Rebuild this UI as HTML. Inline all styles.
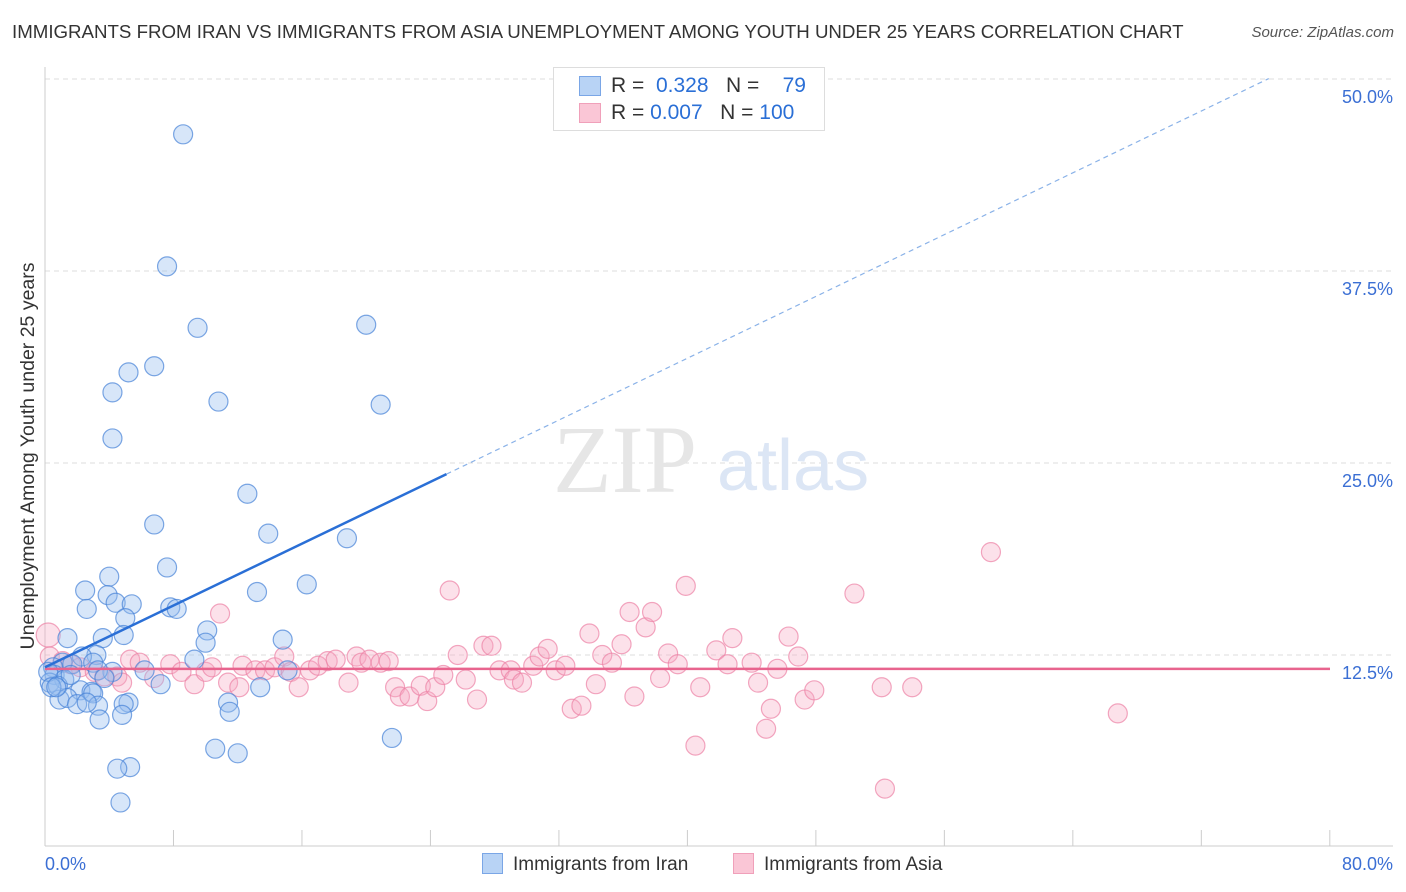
<!DOCTYPE html>
<html><head><meta charset="utf-8"><style>
body{margin:0;background:#fff;font-family:"Liberation Sans",sans-serif;}
#wrap{position:relative;width:1406px;height:892px;overflow:hidden;}
.t{position:absolute;white-space:nowrap;}
</style></head><body><div id="wrap">
<div class="t" style="left:12px;top:21px;font-size:18.7px;color:#333;">IMMIGRANTS FROM IRAN VS IMMIGRANTS FROM ASIA UNEMPLOYMENT AMONG YOUTH UNDER 25 YEARS CORRELATION CHART</div>
<div class="t" style="right:12px;top:24px;font-size:15px;color:#555;font-style:italic;">Source: ZipAtlas.com</div>
<svg id="svg" width="1406" height="892" style="position:absolute;left:0;top:0"></svg>
</div>
<script>
const iranX=[8.6,7.6,9.5,20.0,6.8,5.2,4.2,10.8,20.9,4.2,12.6,6.8,13.9,18.8,7.6,4.0,16.3,2.5,13.2,3.9,4.4,5.4,2.6,7.8,8.2,5.0,10.1,4.9,1.4,3.6,14.8,10.0,3.2,2.3,1.1,1.7,0.5,3.0,9.3,6.2,4.2,3.3,15.1,0.6,1.2,0.3,0.8,2.2,2.9,7.2,13.4,3.0,0.9,1.4,2.0,3.3,5.2,4.9,11.4,2.6,11.5,4.8,3.4,10.6,12.0,21.6,5.3,4.5,4.7,0.2,0.4,0.7,3.7,1.6];
const iranY=[46.4,37.8,33.8,34.0,31.3,30.9,29.6,29.0,28.8,26.6,23.0,21.0,20.4,20.1,18.2,17.6,17.1,16.7,16.6,16.4,15.9,15.8,15.5,15.6,15.5,14.9,14.1,13.8,13.6,13.6,13.5,13.3,12.5,12.4,12.0,11.9,11.7,12.0,12.2,11.5,11.4,11.5,11.5,11.2,10.9,10.7,10.5,10.2,10.1,10.6,10.4,10.0,9.6,9.7,9.3,9.2,9.4,9.3,9.4,9.4,8.8,8.6,8.3,6.4,6.1,7.1,5.2,5.1,2.9,11.4,10.4,10.4,11.0,11.2];
const asiaX=[0.2,0.3,1.1,1.6,2.2,3.1,3.7,4.5,4.8,5.3,5.9,6.8,7.8,8.5,9.3,10.0,10.4,10.9,11.4,12.1,12.3,13.1,13.7,14.3,14.9,15.3,15.8,16.5,17.0,17.6,18.1,18.9,19.4,19.7,20.2,20.9,21.4,21.8,22.1,22.7,23.4,23.8,24.3,24.8,25.2,25.7,26.2,26.9,27.3,27.8,28.3,29.0,29.2,29.7,30.4,30.8,31.3,31.8,32.4,32.8,33.4,33.9,34.3,34.7,35.3,35.9,36.4,36.7,37.4,37.8,38.3,38.8,39.4,39.9,40.5,40.8,41.8,42.8,42.5,44.0,44.4,44.9,45.2,45.6,46.3,46.9,47.3,47.9,50.4,52.1,52.3,54.0,58.9,66.8];
const asiaY=[13.8,12.4,12.1,11.9,11.7,11.4,11.1,11.1,10.7,12.2,12.0,11.0,11.9,11.4,10.6,11.4,11.7,15.2,10.7,10.4,11.8,11.5,11.5,11.7,12.4,11.4,10.4,11.5,11.8,12.1,12.2,10.7,12.4,12.0,12.2,12.0,12.1,10.4,9.8,9.8,10.5,9.5,10.4,11.2,16.7,12.5,10.9,9.6,13.1,13.1,11.5,11.5,10.9,10.7,11.8,12.4,12.9,11.5,11.8,9.0,9.2,13.9,10.6,12.5,12.0,13.2,15.3,9.8,14.3,15.3,11.0,12.6,11.9,17.0,6.6,10.4,12.8,13.6,11.9,12.0,10.7,7.7,9.0,11.6,13.7,12.4,9.6,10.2,16.5,10.4,3.8,10.4,19.2,8.7];
const yTicks=[12.5,25.0,37.5,50.0];
const xTickVals=[0,8,16,24,32,40,48,56,64,72,80];
const iranTrend=[0,11.7,25.0,76.2]; // x0,y0,xSolidEnd,xDashEnd
const iranSlope=0.503;
const asiaTrendY=11.6;

const NS="http://www.w3.org/2000/svg";
const svg=document.getElementById('svg');
const X=v=>45+v*16.06, Y=v=>847-v*15.36;
function mk(tag,a,parent){const e=document.createElementNS(NS,tag);for(const k in a)e.setAttribute(k,a[k]);(parent||svg).appendChild(e);return e;}
for(const t of yTicks){
 const g=mk('line',{x1:45,x2:1393,y1:Y(t),y2:Y(t),stroke:'#ddd','stroke-dasharray':'5,4'});
 
 
 const tx=mk('text',{x:1393,y:Y(t)+24,'text-anchor':'end','font-size':18,fill:'#3b6fd4','font-family':'Liberation Sans'});
 tx.textContent=t.toFixed(1)+'%';
 
 
}
mk('line',{x1:45,x2:45,y1:67,y2:846,stroke:'#ccc'});
mk('line',{x1:45,x2:1393,y1:846,y2:846,stroke:'#ccc'});
for(const v of xTickVals){
 const l=mk('line',{x1:X(v),x2:X(v),y1:830,y2:846,stroke:'#ccc'});
 
 
}
const x0=mk('text',{x:45,y:870,'font-size':18,fill:'#3b6fd4'});x0.textContent='0.0%';


const x1=mk('text',{x:1393,y:870,'font-size':18,fill:'#3b6fd4','text-anchor':'end'});x1.textContent='80.0%';


const yt=mk('text',{x:0,y:0,'font-size':19.5,fill:'#333','text-anchor':'middle',transform:'translate(34,456) rotate(-90)'});
yt.textContent='Unemployment Among Youth under 25 years';


const wm=mk('text',{x:553,y:492,'font-size':96,fill:'#e6e6e6','font-family':'Liberation Serif'});wm.textContent='ZIP';


const wm2=mk('text',{x:717,y:490,'font-size':72,fill:'#dce6f5'});wm2.textContent='atlas';


for(let i=0;i<asiaX.length;i++){
 const c=mk('circle',{cx:X(asiaX[i]),cy:Y(asiaY[i]),r:i==0?12:9.5,fill:'rgba(246,170,195,0.35)',stroke:'rgba(236,130,165,0.7)','stroke-width':1.2});
 
 
}
for(let i=0;i<iranX.length;i++){
 const c=mk('circle',{cx:X(iranX[i]),cy:Y(iranY[i]),r:9.5,fill:'rgba(150,190,240,0.38)',stroke:'rgba(70,130,215,0.7)','stroke-width':1.2});
 
 
}
const tl=mk('line',{x1:X(0),x2:1330,y1:Y(asiaTrendY),y2:Y(asiaTrendY),stroke:'#e8648e','stroke-width':2.5});


const yAt=x=>iranTrend[1]+iranSlope*x;
const b1=mk('line',{x1:X(iranTrend[0]),y1:Y(yAt(iranTrend[0])),x2:X(iranTrend[2]),y2:Y(yAt(iranTrend[2])),stroke:'#2a6fd6','stroke-width':2.5});


const b2=mk('line',{x1:X(iranTrend[2]),y1:Y(yAt(iranTrend[2])),x2:X(iranTrend[3]),y2:Y(yAt(iranTrend[3])),stroke:'#8ab2e8','stroke-width':1.2,'stroke-dasharray':'5,4'});


</script>
<div class="t" style="left:553px;top:67px;width:270px;height:62px;border:1px solid #ddd;background:#fff;font-size:21px;">
 <div style="position:absolute;left:25px;top:8px;width:20px;height:18px;background:#b8d3f5;border:1px solid #7aa6e6"></div>
 <div style="position:absolute;left:25px;top:35px;width:20px;height:18px;background:#fac6d6;border:1px solid #f0a0ba"></div>
 <div class="t" style="left:57px;top:6px;color:#333">R = <span style="color:#2a6fd6">&nbsp;0.328</span>&nbsp;&nbsp;&nbsp;N = <span style="color:#2a6fd6">&nbsp;&nbsp;&nbsp;79</span></div>
 <div class="t" style="left:57px;top:33px;color:#333">R = <span style="color:#2a6fd6">0.007</span>&nbsp;&nbsp;&nbsp;N = <span style="color:#2a6fd6">100</span></div>
</div>
<div class="t" style="left:482px;top:853px;font-size:19px;color:#333;"><span style="display:inline-block;width:19px;height:19px;background:#b8d3f5;border:1px solid #7aa6e6;vertical-align:-4px;margin-right:10px"></span>Immigrants from Iran</div>
<div class="t" style="left:733px;top:853px;font-size:19px;color:#333;"><span style="display:inline-block;width:19px;height:19px;background:#fac6d6;border:1px solid #f0a0ba;vertical-align:-4px;margin-right:10px"></span>Immigrants from Asia</div>
</body></html>
